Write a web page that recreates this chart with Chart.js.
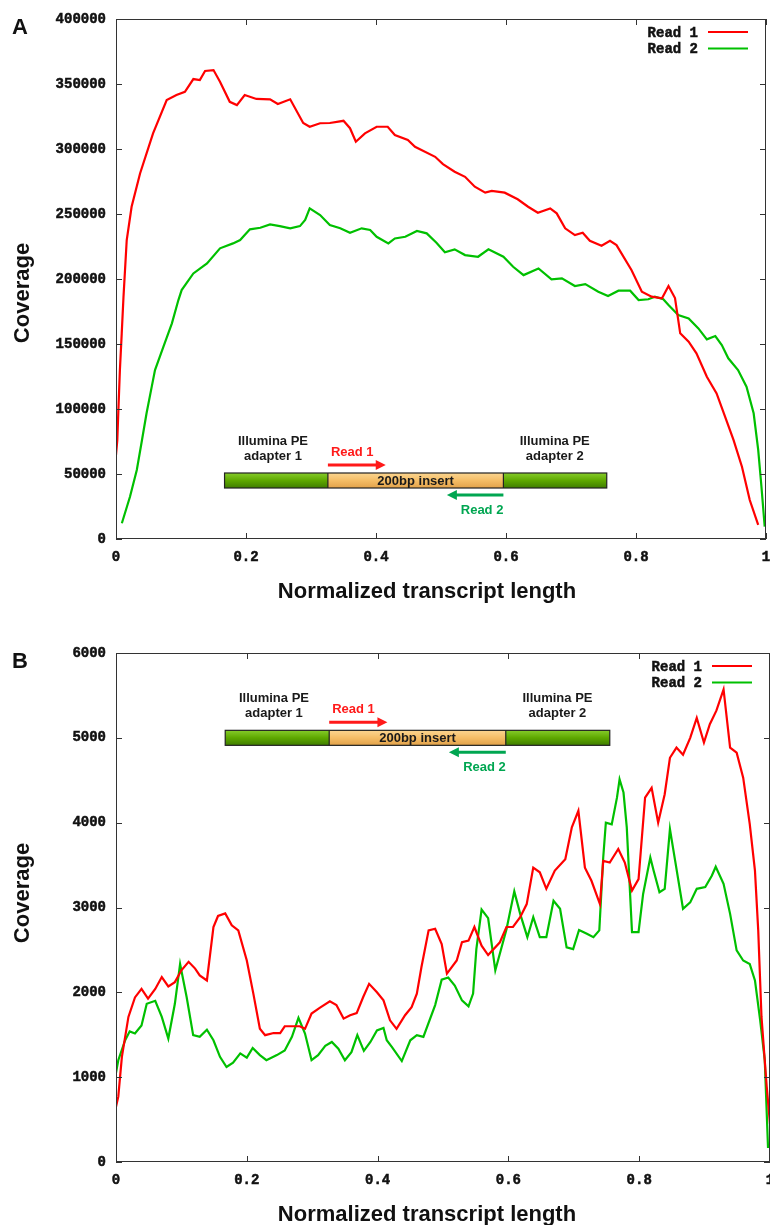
<!DOCTYPE html>
<html>
<head>
<meta charset="utf-8">
<title>Read coverage along normalized transcript length</title>
<script src="https://cdn.jsdelivr.net/npm/chart.js@4.4.1/dist/chart.umd.min.js"></script>
<style>
  html, body { margin: 0; padding: 0; background: #fff; overflow: hidden; }
  body { width: 770px; height: 1225px; position: relative; }
  .panel { position: absolute; left: 0; width: 770px; height: 615px; }
  #panelA { top: 0; }
  #panelB { top: 623px; }
</style>
</head>
<body>
<div class="panel" id="panelA"><canvas id="chartA" width="770" height="615"></canvas></div>
<div class="panel" id="panelB"><canvas id="chartB" width="770" height="615"></canvas></div>

<script>
// --------- Data --------------------------------
const xTickLabels = ['0', '0.2', '0.4', '0.6', '0.8', '1'];
const yTicksA = ['0', '50000', '100000', '150000', '200000', '250000', '300000', '350000', '400000'];
const yTicksB = ['0', '1000', '2000', '3000', '4000', '5000', '6000'];
const seriesNames = ['Read 1', 'Read 2'];

// Panel A, Read 1
const a1X = [0, 0.002, 0.0035, 0.006, 0.0088, 0.0115, 0.0165, 0.024, 0.037, 0.057, 0.078, 0.093, 0.106,
  0.119, 0.129, 0.137, 0.150, 0.160, 0.175, 0.186, 0.198, 0.216, 0.237, 0.249, 0.268, 0.288, 0.298, 0.314,
  0.329, 0.350, 0.360, 0.369, 0.383, 0.401, 0.418, 0.429, 0.449, 0.460, 0.491, 0.503, 0.521, 0.537, 0.552,
  0.568, 0.578, 0.598, 0.618, 0.634, 0.649, 0.668, 0.678, 0.691, 0.706, 0.718, 0.729, 0.747, 0.760, 0.770,
  0.793, 0.809, 0.824, 0.840, 0.850, 0.860, 0.868, 0.881, 0.893, 0.909, 0.924, 0.937, 0.950, 0.963, 0.975, 0.988];
const a1Y = [64600, 76000, 97000, 130000, 158000, 186000, 230000, 255600, 281200, 312000, 337700, 341500, 344000,
  353800, 353000, 360000, 360700, 351700, 336300, 333800, 341500, 338500, 338200, 334600, 338200, 320000, 317100, 319800,
  320000, 321700, 316000, 305600, 312000, 317100, 317100, 310700, 306900, 301700, 294000, 288400, 282500, 278600, 271000,
  266400, 267700, 266400, 261300, 255600, 251000, 254300, 250500, 239000, 233800, 235600, 229400, 225600, 229400, 226100,
  206900, 190200, 186400, 185200, 194600, 185400, 158200, 151800, 142800, 124800, 112000, 94100, 76200, 55600, 30000, 10800];

// Panel A, Read 2
const a2X = [0.009, 0.0215, 0.032, 0.040, 0.047, 0.055, 0.060, 0.073, 0.086, 0.096, 0.101, 0.119, 0.140, 0.160,
  0.180, 0.191, 0.206, 0.222, 0.237, 0.252, 0.268, 0.283, 0.291, 0.298, 0.314, 0.329, 0.345, 0.360, 0.378,
  0.391, 0.401, 0.419, 0.429, 0.445, 0.463, 0.478, 0.493, 0.506, 0.521, 0.537, 0.557, 0.573, 0.596, 0.611,
  0.627, 0.650, 0.670, 0.686, 0.706, 0.722, 0.742, 0.757, 0.773, 0.791, 0.804, 0.819, 0.829, 0.842, 0.850,
  0.865, 0.881, 0.896, 0.909, 0.922, 0.932, 0.942, 0.957, 0.970, 0.981, 0.988, 0.993, 0.998];
const a2Y = [12100, 32500, 53100, 76200, 96700, 117200, 130000, 147900, 165900, 183800, 191500, 204300, 212000, 223600,
  227400, 230000, 238200, 239400, 242000, 240700, 239000, 240700, 245400, 254300, 249200, 241500, 239000, 235600, 239000,
  237700, 232500, 227400, 231200, 232500, 236900, 235100, 227900, 220500, 222800, 218400, 217100, 222800, 217100, 209400,
  203000, 208100, 199700, 200500, 194600, 196100, 190200, 186900, 191000, 191000, 183800, 184400, 186400, 184400, 180000,
  172300, 169700, 162000, 153600, 156100, 149200, 139000, 130000, 117200, 96700, 68500, 40200, 9500];

// Panel B, Read 1
const b1X = [0, 0.0035, 0.009, 0.019, 0.029, 0.039, 0.049, 0.060, 0.070, 0.080, 0.090, 0.100, 0.111, 0.121, 0.128,
  0.139, 0.149, 0.156, 0.167, 0.177, 0.187, 0.200, 0.210, 0.220, 0.228, 0.241, 0.251, 0.258, 0.281, 0.289, 0.299,
  0.312, 0.327, 0.337, 0.348, 0.358, 0.368, 0.378, 0.387, 0.399, 0.409, 0.419, 0.429, 0.442, 0.452, 0.460, 0.467,
  0.478, 0.488, 0.498, 0.506, 0.521, 0.529, 0.539, 0.548, 0.559, 0.569, 0.587, 0.597, 0.607, 0.618, 0.628, 0.638,
  0.648, 0.658, 0.671, 0.687, 0.697, 0.707, 0.717, 0.727, 0.740, 0.745, 0.755, 0.768, 0.778, 0.789, 0.799, 0.809,
  0.819, 0.829, 0.839, 0.847, 0.857, 0.867, 0.878, 0.888, 0.899, 0.908, 0.918, 0.929, 0.939, 0.949, 0.959, 0.969,
  0.977, 0.982, 0.987, 0.995, 1.0];
const b1Y = [650, 770, 1240, 1710, 1940, 2040, 1925, 2040, 2180, 2070, 2120, 2260, 2360, 2280, 2200,
  2140, 2770, 2900, 2930, 2790, 2730, 2375, 1985, 1570, 1495, 1520, 1520, 1600, 1600, 1570, 1750,
  1820, 1895, 1850, 1690, 1730, 1755, 1945, 2100, 2000, 1905, 1670, 1570, 1730, 1825, 1985, 2295,
  2730, 2750, 2570, 2220, 2375, 2590, 2610, 2770, 2550, 2440, 2590, 2770, 2770, 2885, 3040, 3470,
  3415, 3220, 3435, 3570, 3945, 4140, 3470, 3315, 3040, 3550, 3530, 3690, 3530, 3200, 3335, 4295,
  4410, 4000, 4335, 4765, 4885, 4800, 5000, 5235, 4945, 5160, 5320, 5570, 4885, 4825, 4530, 3985,
  3435, 2730, 1710, 885, 450];

// Panel B, Read 2
const b2X = [0, 0.0035, 0.014, 0.021, 0.029, 0.039, 0.047, 0.060, 0.070, 0.080, 0.090, 0.098, 0.108, 0.118, 0.128,
  0.139, 0.149, 0.159, 0.169, 0.179, 0.190, 0.200, 0.209, 0.220, 0.230, 0.246, 0.258, 0.269, 0.279, 0.289, 0.299,
  0.309, 0.320, 0.330, 0.340, 0.350, 0.360, 0.369, 0.379, 0.389, 0.399, 0.409, 0.414, 0.422, 0.437, 0.450, 0.460,
  0.470, 0.488, 0.498, 0.508, 0.518, 0.529, 0.539, 0.546, 0.551, 0.559, 0.569, 0.580, 0.597, 0.609, 0.618, 0.629,
  0.638, 0.648, 0.658, 0.669, 0.679, 0.689, 0.699, 0.708, 0.720, 0.730, 0.739, 0.745, 0.749, 0.758, 0.766, 0.770,
  0.776, 0.781, 0.789, 0.799, 0.806, 0.817, 0.822, 0.831, 0.839, 0.847, 0.855, 0.867, 0.878, 0.888, 0.901, 0.911,
  0.917, 0.929, 0.939, 0.949, 0.959, 0.969, 0.977, 0.985, 0.992, 0.997];
const b2Y = [1050, 1200, 1435, 1540, 1515, 1610, 1865, 1900, 1710, 1455, 1865, 2335, 1945, 1495, 1475,
  1560, 1435, 1240, 1120, 1170, 1280, 1230, 1345, 1260, 1200, 1260, 1315, 1475, 1700, 1515, 1200,
  1260, 1370, 1415, 1335, 1200, 1295, 1495, 1310, 1415, 1550, 1580, 1435, 1355, 1190, 1435, 1495,
  1475, 1850, 2150, 2175, 2080, 1905, 1835, 1985, 2510, 2975, 2875, 2260, 2740, 3190, 2925, 2650,
  2885, 2650, 2650, 3080, 2985, 2530, 2510, 2735, 2690, 2650, 2730, 3590, 4000, 3980, 4295, 4510,
  4355, 3945, 2710, 2710, 3160, 3590, 3435, 3180, 3220, 3925, 3550, 2985, 3060, 3220, 3240, 3375,
  3480, 3280, 2925, 2495, 2375, 2335, 2140, 1670, 1200, 165];

// --------- Styles ----------
const RED = '#ff0000';
const GREEN = '#00c000';
const MONO = '"Liberation Mono", "DejaVu Sans Mono", monospace';
const TICK_FONT = 'bold 14px ' + MONO;
const SANS = '"Liberation Sans", Arial, sans-serif';

// --------- Helpers ----------
function toPoints(xs, ys) {
  return xs.map((x, i) => ({ x, y: ys[i] }));
}

function arrow(ctx, x1, x2, y, color) {
  const dir = Math.sign(x2 - x1);
  ctx.strokeStyle = color;
  ctx.fillStyle = color;
  ctx.lineWidth = 3;
  ctx.beginPath();
  ctx.moveTo(x1, y);
  ctx.lineTo(x2 - dir * 8, y);
  ctx.stroke();
  ctx.beginPath();
  ctx.moveTo(x2, y);
  ctx.lineTo(x2 - dir * 10, y - 5);
  ctx.lineTo(x2 - dir * 10, y + 5);
  ctx.closePath();
  ctx.fill();
}

// Frame, inward ticks, legend, titles and the adapter/insert sketch
const decorPlugin = {
  id: 'decor',
  afterDraw(chart, args, opts) {
    const { ctx, chartArea: a, scales: { x, y } } = chart;
    ctx.save();

    // border + mirrored inward ticks
    ctx.strokeStyle = '#333';
    ctx.lineWidth = 1;
    ctx.strokeRect(a.left + 0.5, a.top + 0.5, a.right - a.left - 1, a.bottom - a.top - 1);
    ctx.beginPath();
    x.ticks.forEach(t => {
      const px = Math.round(x.getPixelForValue(t.value)) + 0.5;
      ctx.moveTo(px, a.bottom); ctx.lineTo(px, a.bottom - 6);
      ctx.moveTo(px, a.top); ctx.lineTo(px, a.top + 6);
    });
    y.ticks.forEach(t => {
      const py = Math.round(y.getPixelForValue(t.value)) + 0.5;
      ctx.moveTo(a.left, py); ctx.lineTo(a.left + 6, py);
      ctx.moveTo(a.right, py); ctx.lineTo(a.right - 6, py);
    });
    ctx.stroke();

    // legend (text then line sample, gnuplot style)
    ctx.font = TICK_FONT;
    ctx.textAlign = 'right';
    ctx.textBaseline = 'middle';
    chart.data.datasets.forEach((ds, i) => {
      const ly = a.top + 13 + i * 16.5;
      ctx.fillStyle = '#111';
      ctx.strokeStyle = '#111';
      ctx.lineWidth = 0.5;
      ctx.fillText(ds.label, a.right - 68, ly + 1);
      ctx.strokeText(ds.label, a.right - 68, ly + 1);
      ctx.strokeStyle = ds.borderColor;
      ctx.lineWidth = 2.2;
      ctx.beginPath();
      ctx.moveTo(a.right - 58, ly);
      ctx.lineTo(a.right - 18, ly);
      ctx.stroke();
    });

    // panel letter
    ctx.fillStyle = '#111';
    ctx.textAlign = 'left';
    ctx.textBaseline = 'alphabetic';
    ctx.font = 'bold 22px ' + SANS;
    ctx.fillText(opts.letter, 12, a.top + 15);

    // axis titles
    ctx.textAlign = 'center';
    ctx.textBaseline = 'middle';
    ctx.fillText('Normalized transcript length', 427, a.bottom + 53);
    ctx.save();
    ctx.translate(23, a.top + opts.yTitleOffset);
    ctx.rotate(-Math.PI / 2);
    ctx.fillText('Coverage', 0, 0);
    ctx.restore();

    // adapter / insert sketch
    const cy = y.getPixelForValue(opts.sketchY);
    const px = v => x.getPixelForValue(v);
    const bx0 = px(0.167), bx1 = px(0.755), ix0 = px(0.326), ix1 = px(0.596);
    const top = cy - 7.5, h = 15;

    const gGreen = ctx.createLinearGradient(0, top, 0, top + h);
    gGreen.addColorStop(0, '#86cc2a');
    gGreen.addColorStop(0.5, '#5ea800');
    gGreen.addColorStop(1, '#3f7d00');
    ctx.fillStyle = gGreen;
    ctx.fillRect(bx0, top, bx1 - bx0, h);

    const gIns = ctx.createLinearGradient(0, top, 0, top + h);
    gIns.addColorStop(0, '#fbd590');
    gIns.addColorStop(0.5, '#f4bd66');
    gIns.addColorStop(1, '#e2a24a');
    ctx.fillStyle = gIns;
    ctx.fillRect(ix0, top, ix1 - ix0, h);

    ctx.strokeStyle = '#222';
    ctx.lineWidth = 1.2;
    ctx.strokeRect(bx0, top, bx1 - bx0, h);
    ctx.beginPath();
    ctx.moveTo(ix0, top); ctx.lineTo(ix0, top + h);
    ctx.moveTo(ix1, top); ctx.lineTo(ix1, top + h);
    ctx.stroke();

    ctx.font = 'bold 13px ' + SANS;
    ctx.fillStyle = '#1a1a1a';
    ctx.textAlign = 'center';
    ctx.fillText('200bp insert', (ix0 + ix1) / 2, cy + 1);
    ctx.fillText('Illumina PE', px(0.2415), cy - 39);
    ctx.fillText('adapter 1', px(0.2415), cy - 24);
    ctx.fillText('Illumina PE', px(0.675), cy - 39);
    ctx.fillText('adapter 2', px(0.675), cy - 24);

    ctx.fillStyle = '#ff1a1a';
    ctx.textAlign = 'left';
    ctx.fillText('Read 1', ix0 + 3, cy - 28);
    arrow(ctx, ix0, px(0.415), cy - 15.5, '#ff1a1a');

    ctx.fillStyle = '#00a651';
    ctx.textAlign = 'right';
    ctx.fillText('Read 2', ix1, cy + 30);
    arrow(ctx, ix1, px(0.509), cy + 14.5, '#00a651');

    ctx.restore();
  }
};

function makeChart(canvasId, cfg) {
  const ctx = document.getElementById(canvasId).getContext('2d');
  const tickFont = { family: MONO, size: 14, weight: 'bold' };
  return new Chart(ctx, {
    type: 'line',
    data: {
      datasets: [
        { label: seriesNames[0], data: toPoints(cfg.x1, cfg.y1), borderColor: RED, borderWidth: 2.2,
          pointRadius: 0, fill: false, tension: 0 },
        { label: seriesNames[1], data: toPoints(cfg.x2, cfg.y2), borderColor: GREEN, borderWidth: 2.2,
          pointRadius: 0, fill: false, tension: 0 }
      ]
    },
    options: {
      responsive: false,
      animation: false,
      devicePixelRatio: 1,
      layout: { autoPadding: false, padding: { top: cfg.padTop, right: cfg.padRight, left: 0, bottom: 0 } },
      plugins: {
        legend: { display: false },
        tooltip: { enabled: false },
        decor: { letter: cfg.letter, sketchY: cfg.sketchY, yTitleOffset: cfg.yTitleOffset }
      },
      scales: {
        x: {
          type: 'linear', min: 0, max: 1,
          grid: { display: false, drawTicks: false },
          border: { display: false },
          ticks: {
            stepSize: 0.2, autoSkip: false, maxRotation: 0, padding: 10, color: '#111',
            textStrokeColor: '#111', textStrokeWidth: 0.5, font: tickFont,
            callback: v => xTickLabels[Math.round(v * 5)]
          },
          afterFit(s) { s.height = 76; s.paddingLeft = 0; s.paddingRight = 0; }
        },
        y: {
          min: 0, max: cfg.yMax,
          grid: { display: false, drawTicks: false },
          border: { display: false },
          ticks: {
            stepSize: cfg.yStep, padding: 10, color: '#111',
            textStrokeColor: '#111', textStrokeWidth: 0.5, font: tickFont,
            callback: (v, i) => cfg.yLabels[i]
          },
          afterFit(s) { s.width = 116; s.paddingTop = 0; s.paddingBottom = 0; }
        }
      }
    },
    plugins: [decorPlugin]
  });
}

// --------- Init ----------
makeChart('chartA', {
  letter: 'A', x1: a1X, y1: a1Y, x2: a2X, y2: a2Y,
  yMax: 400000, yStep: 50000, yLabels: yTicksA,
  padTop: 19, padRight: 4, sketchY: 45000, yTitleOffset: 274
});

makeChart('chartB', {
  letter: 'B', x1: b1X, y1: b1Y, x2: b2X, y2: b2Y,
  yMax: 6000, yStep: 1000, yLabels: yTicksB,
  padTop: 30, padRight: 0, sketchY: 5000, yTitleOffset: 240
});
</script>
</body>
</html>
